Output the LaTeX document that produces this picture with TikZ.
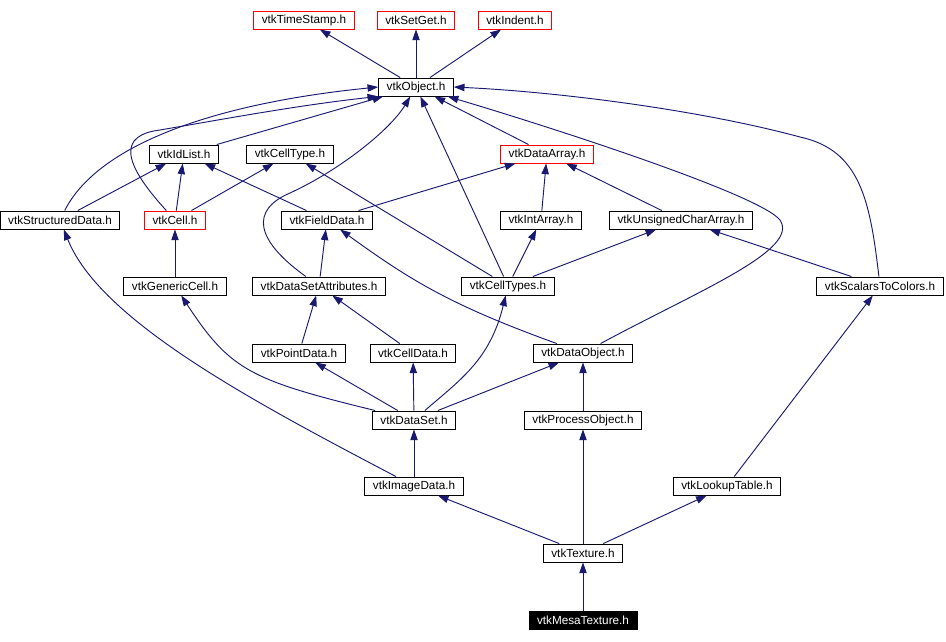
\documentclass[tikz,border=0pt]{standalone}
\usepackage{fontspec}
\setmainfont{Liberation Sans}
\usepackage{xcolor}
\usepackage{tikz}
\usetikzlibrary{arrows.meta}
\definecolor{navy}{HTML}{191970}

\begin{document}
\begin{tikzpicture}[
  x=0.75pt, y=-0.75pt,
  hdr/.style={draw, line width=0.7pt, minimum height=13.5pt, inner xsep=6pt, inner ysep=1pt, font=\fontsize{8.8}{10}\selectfont},
  trunc/.style={hdr, draw=red},
  self/.style={hdr, fill=black, text=white},
  inc/.style={->, draw=navy, line width=0.7pt},
  >={Triangle[length=8pt, width=5.5pt]}]
\useasboundingbox (0,0) rectangle (946,642);
\node[trunc] (ts)     at (304,20)  {vtkTimeStamp.h};
\node[trunc] (sg)     at (416,20)  {vtkSetGet.h};
\node[trunc] (ind)    at (515,20)  {vtkIndent.h};
\node[hdr]   (obj)    at (416,87)  {vtkObject.h};
\node[hdr]   (idl)    at (184,154) {vtkIdList.h};
\node[hdr]   (ctype)  at (290,154) {vtkCellType.h};
\node[trunc] (darr)   at (547,154) {vtkDataArray.h};
\node[hdr]   (sdata)  at (60,220)  {vtkStructuredData.h};
\node[trunc] (cell)   at (175,220) {vtkCell.h};
\node[hdr]   (fdata)  at (327,220) {vtkFieldData.h};
\node[hdr]   (iarr)   at (541,220) {vtkIntArray.h};
\node[hdr]   (ucarr)  at (681,220) {vtkUnsignedCharArray.h};
\node[hdr]   (gcell)  at (175,286) {vtkGenericCell.h};
\node[hdr]   (dsattr) at (319,286) {vtkDataSetAttributes.h};
\node[hdr]   (ctypes) at (508,286) {vtkCellTypes.h};
\node[hdr]   (s2c)    at (880,286) {vtkScalarsToColors.h};
\node[hdr]   (pdata)  at (299,353) {vtkPointData.h};
\node[hdr]   (cdata)  at (413,353) {vtkCellData.h};
\node[hdr]   (dobj)   at (583,353) {vtkDataObject.h};
\node[hdr]   (dset)   at (414,420) {vtkDataSet.h};
\node[hdr]   (pobj)   at (583,420) {vtkProcessObject.h};
\node[hdr]   (img)    at (414,486) {vtkImageData.h};
\node[hdr]   (lut)    at (727,486) {vtkLookupTable.h};
\node[hdr]   (tex)    at (583,553) {vtkTexture.h};
\node[self]  (mesa)   at (583,620) {vtkMesaTexture.h};
\draw[inc] (obj) -- (ts);
\draw[inc] (obj) -- (sg);
\draw[inc] (obj) -- (ind);
\draw[inc] (sdata) .. controls (95,150) and (200,105) .. (obj.west);
\draw[inc] (cell) .. controls (120,160) and (120,135) .. (160,130) .. controls (230,118) and (300,105) .. (obj.south west);
\draw[inc] (idl) -- (obj);
\draw[inc] (darr) -- (obj);
\draw[inc] (dsattr) .. controls (255,240) and (250,210) .. (290,193) .. controls (340,170) and (390,130) .. (obj);
\draw[inc] (ctypes) -- (obj);
\draw[inc] (dobj) .. controls (700,290) and (800,250) .. (780,220) .. controls (760,195) and (560,130) .. (obj);
\draw[inc] (s2c) .. controls (870,200) and (860,150) .. (800,137) .. controls (700,110) and (560,92) .. (obj.east);
\draw[inc] (sdata) -- (idl);
\draw[inc] (cell) -- (idl);
\draw[inc] (cell) -- (ctype);
\draw[inc] (fdata) -- (idl);
\draw[inc] (fdata) -- (darr);
\draw[inc] (ctypes) -- (ctype);
\draw[inc] (iarr) -- (darr);
\draw[inc] (ucarr) -- (darr);
\draw[inc] (ctypes) -- (iarr);
\draw[inc] (ctypes) -- (ucarr);
\draw[inc] (s2c) -- (ucarr);
\draw[inc] (gcell) -- (cell);
\draw[inc] (dsattr) -- (fdata);
\draw[inc] (dobj) .. controls (450,305) and (410,280) .. (fdata);
\draw[inc] (pdata) -- (dsattr);
\draw[inc] (cdata) -- (dsattr);
\draw[inc] (dset) .. controls (250,380) and (230,370) .. (gcell);
\draw[inc] (dset) -- (pdata);
\draw[inc] (dset) -- (cdata);
\draw[inc] (dset) .. controls (460,380) and (490,360) .. (ctypes);
\draw[inc] (dset) -- (dobj);
\draw[inc] (pobj) -- (dobj);
\draw[inc] (img) .. controls (250,400) and (100,320) .. (sdata);
\draw[inc] (img) -- (dset);
\draw[inc] (lut) -- (s2c);
\draw[inc] (tex) -- (img);
\draw[inc] (tex) -- (pobj);
\draw[inc] (tex) -- (lut);
\draw[inc] (mesa) -- (tex);
\end{tikzpicture}
\end{document}
